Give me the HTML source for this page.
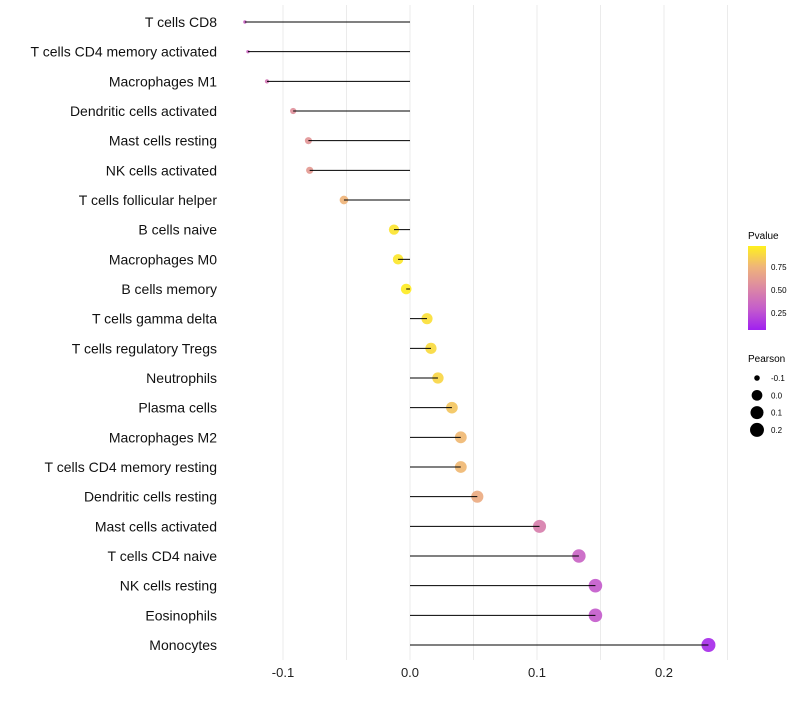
<!DOCTYPE html>
<html><head><meta charset="utf-8"><style>
body{margin:0;background:#fff;font-family:"Liberation Sans",sans-serif}
svg text{font-family:"Liberation Sans",sans-serif}
</style></head><body>
<svg id="chart" width="800" height="700" xmlns="http://www.w3.org/2000/svg">
<defs><linearGradient id="pg" x1="0" y1="1" x2="0" y2="0">
<stop offset="0" stop-color="#a020f0"/><stop offset="0.25" stop-color="#c45ccc"/><stop offset="0.5" stop-color="#dc88a4"/><stop offset="0.75" stop-color="#efb47a"/><stop offset="1" stop-color="#fff01e"/></linearGradient></defs>
<g id="grid"></g><g id="marks"></g><g id="labels"></g>
<g>
<text x="748" y="239" font-size="10">Pvalue</text>
<rect x="748" y="246" width="18" height="84" fill="url(#pg)"/>
<text x="771" y="270" font-size="8">0.75</text>
<text x="771" y="293" font-size="8">0.50</text>
<text x="771" y="316" font-size="8">0.25</text>
</g>
<g id="sizeleg">
<text x="748" y="362" font-size="10">Pearson</text>
</g>
</svg>
<script>
const categories=["T cells CD8","T cells CD4 memory activated","Macrophages M1","Dendritic cells activated","Mast cells resting","NK cells activated","T cells follicular helper","B cells naive","Macrophages M0","B cells memory","T cells gamma delta","T cells regulatory  Tregs ","Neutrophils","Plasma cells","Macrophages M2","T cells CD4 memory resting","Dendritic cells resting","Mast cells activated","T cells CD4 naive","NK cells resting","Eosinophils","Monocytes"];
const pearson=[-0.130,-0.1276,-0.1126,-0.092,-0.080,-0.079,-0.052,-0.0126,-0.0094,-0.003,0.0134,0.0165,0.022,0.033,0.040,0.040,0.053,0.102,0.133,0.146,0.146,0.235];
const pvalue=[0.30,0.32,0.40,0.55,0.58,0.60,0.75,0.95,0.96,0.98,0.93,0.91,0.89,0.82,0.77,0.77,0.70,0.45,0.30,0.25,0.25,0.05];
const xTicks=[-0.1,0,0.1,0.2];
const xTickLabels=["-0.1","0.0","0.1","0.2"];
const minorTicks=[-0.05,0.05,0.15,0.25];
const sizeLegend=[-0.1,0,0.1,0.2];
const sizeLegendLabels=["-0.1","0.0","0.1","0.2"];

const NS="http://www.w3.org/2000/svg";
const xs=v=>410+v*1270;
const ys=i=>22+i*(623/21);
const rs=v=>{const u=(0.235-v)/0.365;return Math.max(1.7,7*Math.sqrt(Math.max(0,1-u*u)));};
const stops=[[0,[160,32,240]],[0.25,[196,92,204]],[0.5,[220,136,164]],[0.75,[239,180,122]],[1,[255,240,30]]];
function col(p){for(let i=1;i<stops.length;i++){if(p<=stops[i][0]){const a=stops[i-1],b=stops[i];const t=(p-a[0])/(b[0]-a[0]);return 'rgb('+a[1].map((c,k)=>Math.round(c+(b[1][k]-c)*t)).join(',')+')';}}return 'rgb(255,240,30)';}
function mk(tag,at,parent){const e=document.createElementNS(NS,tag);for(const k in at)e.setAttribute(k,at[k]);parent.appendChild(e);return e;}
const grid=document.getElementById('grid'),marks=document.getElementById('marks'),labels=document.getElementById('labels');
minorTicks.concat(xTicks).forEach(t=>{const l=mk('line',{x1:xs(t),x2:xs(t),y1:5,y2:660,stroke:'#ebebeb','stroke-width':1},grid);

});
xTicks.forEach((t,i)=>{const e=mk('text',{x:xs(t),y:677,'font-size':13,'text-anchor':'middle',fill:'#222'},labels);e.textContent=xTickLabels[i];

});
categories.forEach((c,i)=>{const y=ys(i);
const pt=mk('circle',{cx:xs(pearson[i]),cy:y,r:rs(pearson[i]),fill:col(pvalue[i]),'fill-opacity':0.92},marks);


const ln=mk('line',{x1:xs(0),x2:xs(pearson[i]),y1:y,y2:y,stroke:'#000','stroke-width':1},marks);


const t=mk('text',{x:217,y:y+5,'font-size':14,'text-anchor':'end',fill:'#111'},labels);t.textContent=c;

});
const sl=document.getElementById('sizeleg');
sizeLegend.forEach((v,i)=>{const y=378+i*17.3;
const c=mk('circle',{cx:757,cy:y,r:rs(v),fill:'#000'},sl);


const t=mk('text',{x:771,y:y+3,'font-size':8},sl);t.textContent=sizeLegendLabels[i];

});
</script>
</body></html>
